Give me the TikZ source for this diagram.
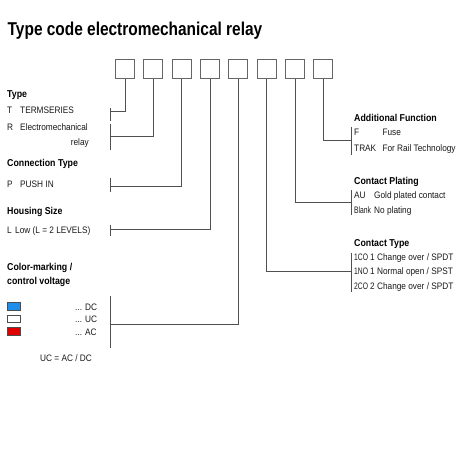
\documentclass[tikz,border=0pt]{standalone}
\usepackage{fontspec}
\setmainfont{Liberation Sans}[FakeStretch=0.88]
\newfontfamily\titlefont{Liberation Sans}[FakeStretch=0.83]
\newfontfamily\keyfont{Liberation Sans}[FakeStretch=0.72]
\usepackage{tikz}
\usetikzlibrary{positioning}
\definecolor{lineg}{HTML}{505050}
\definecolor{dcblue}{HTML}{1E8EEA}
\definecolor{acred}{HTML}{E00000}

\begin{document}
\begin{tikzpicture}[
  x=1pt, y=-1pt,
  codebox/.style={rectangle, draw=black!60, line width=1pt, minimum size=19pt, inner sep=0pt},
  lbl/.style={anchor=base west, inner sep=0pt, font=\fontsize{9.4}{10}\selectfont, text=black!90},
  key/.style={lbl, font=\keyfont\fontsize{9.4}{10}\selectfont},
  head/.style={anchor=base west, inner sep=0pt, font=\fontsize{10}{11}\selectfont\bfseries},
  link/.style={draw=lineg, line width=0.8pt},
  swatch/.style={draw=black!70, line width=0.6pt}
]
\useasboundingbox (0,0) rectangle (474,474);

\node (title) [anchor=base west, inner sep=0pt, font=\titlefont\fontsize{18.6}{20}\selectfont\bfseries] at (7.5,35) {Type code electromechanical relay};

% code boxes
\foreach \i in {1,...,8}
  \node (b\i) [codebox] at ({125+28.33*(\i-1)},69.3) {};

% bracket points
\coordinate (jT) at (110,111.7);
\coordinate (jR) at (110,136.7);
\coordinate (jP) at (110,186);
\coordinate (jL) at (110,229.3);
\coordinate (jC) at (110,324.5);
\coordinate (jK) at (351,271.7);
\coordinate (jA) at (351,202);
\coordinate (jF) at (351,140);

% connectors
\draw[link] (b1.south) |- (jT);
\draw[link] (b2.south) |- (jR);
\draw[link] (b3.south) |- (jP);
\draw[link] (b4.south) |- (jL);
\draw[link] (b5.south) |- (jC);
\draw[link] (b6.south) |- (jK);
\draw[link] (b7.south) |- (jA);
\draw[link] (b8.south) |- (jF);

% brackets
\draw[link] (110,108) -- (110,120.7);
\draw[link] (110,124) -- (110,150);
\draw[link] (110,178) -- (110,191.7);
\draw[link] (110,225) -- (110,236);
\draw[link] (110,296) -- (110,348);
\draw[link] (351,252.7) -- (351,291.7);
\draw[link] (351,190) -- (351,215);
\draw[link] (351,126.7) -- (351,155);

% left column
\node (htype) [head] at (7,97.3) {Type};
\node (kT) [lbl] at (7,113.3) {T};
\node (vT) [lbl] at (20,113.3) {TERMSERIES};
\node (kR) [lbl] at (7,130) {R};
\node (vR) [lbl] at (20,130) {Electromechanical};
\node (vR2) [lbl, anchor=base east] at (89,145) {relay};

\node (hconn) [head] at (7,166.7) {Connection Type};
\node (kP) [lbl] at (7,187.3) {P};
\node (vP) [lbl] at (20,187.3) {PUSH IN};

\node (hhous) [head] at (7,214) {Housing Size};
\node (kL) [lbl] at (7,233.3) {L};
\node (vL) [lbl] at (15,233.3) {Low (L = 2 LEVELS)};

\node (hcol) [head] at (7,270.7) {Color-marking /};
\node (hcol2) [head] at (7,284) {control voltage};
\draw[swatch, fill=dcblue] (7,302.3) rectangle (20.5,310);
\draw[swatch, fill=white] (7,315) rectangle (20.5,322.7);
\draw[swatch, fill=acred] (7,327.7) rectangle (20.5,335.7);
\node (vDC) [lbl] at (75,310) {... DC};
\node (vUC) [lbl] at (75,322.3) {... UC};
\node (vAC) [lbl] at (75,335) {... AC};
\node (note) [lbl] at (40,361.7) {UC = AC / DC};

% right column
\node (hadd) [head] at (354,121.7) {Additional Function};
\node (kF) [lbl] at (354,135.7) {F};
\node (vF) [lbl] at (382.3,135.7) {Fuse};
\node (kTR) [lbl] at (354,151.7) {TRAK};
\node (vTR) [lbl] at (382.3,151.7) {For Rail Technology};

\node (hplat) [head] at (354,184) {Contact Plating};
\node (kAU) [lbl] at (354,198.3) {AU};
\node (vAU) [lbl] at (374,198.3) {Gold plated contact};
\node (kBL) [key] at (354,213.3) {Blank};
\node (vBL) [lbl] at (374,213.3) {No plating};

\node (hctype) [head] at (354,246) {Contact Type};
\node (k1C) [key] at (354,260) {1CO};
\node (v1C) [lbl] at (370,260) {1 Change over / SPDT};
\node (k1N) [key] at (354,274.3) {1NO};
\node (v1N) [lbl] at (370,274.3) {1 Normal open / SPST};
\node (k2C) [key] at (354,289.3) {2CO};
\node (v2C) [lbl] at (370,289.3) {2 Change over / SPDT};

\end{tikzpicture}
\end{document}
